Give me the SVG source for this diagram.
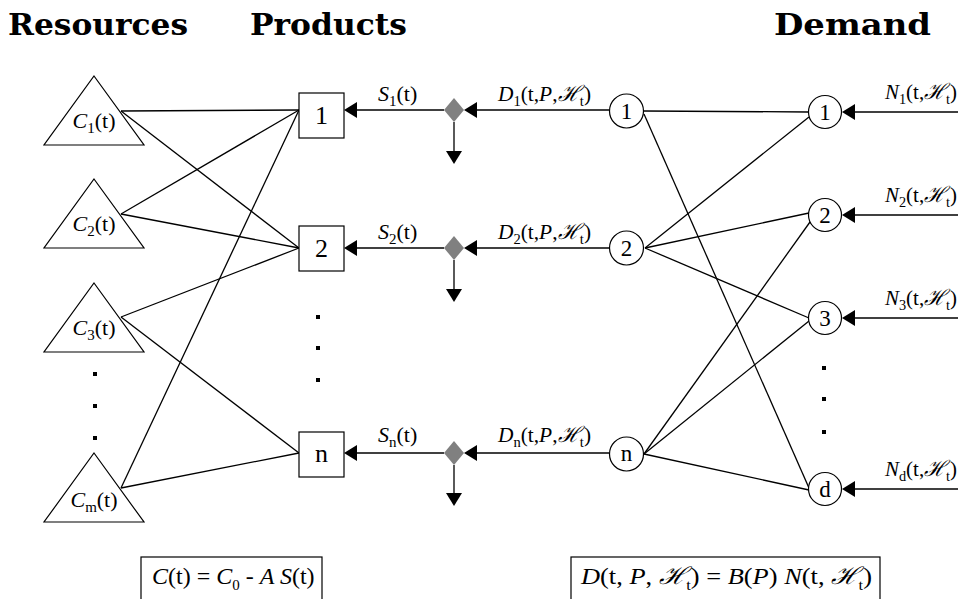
<svg xmlns="http://www.w3.org/2000/svg" width="958" height="599" viewBox="0 0 958 599">
<defs>
<style>
.t{font-family:"Liberation Serif","Times New Roman",serif;font-size:22px;fill:#000}
.d{font-family:"Liberation Serif","Times New Roman",serif;font-size:23px;fill:#000}
.q{font-family:"Liberation Serif","Times New Roman",serif;font-size:26px;fill:#000}
.f{font-family:"Liberation Serif","Times New Roman",serif;font-size:24px;fill:#000}
.h{font-family:"DejaVu Serif","Liberation Serif",serif;font-weight:bold;font-size:29px;fill:#000}
.i{font-style:italic}
.s{font-size:15px}
.ln{stroke:#000;stroke-width:1.3;fill:none}
.node{fill:#fff;stroke:#000;stroke-width:1.2}
.dm{fill:#808080}
.ar{fill:#000}
.dot{fill:#000}
</style>
</defs>
<rect width="958" height="599" fill="#fff"/>

<g id="headings">
<text class="h" x="8" y="35" textLength="180" lengthAdjust="spacingAndGlyphs">Resources</text>
<text class="h" x="250" y="35" textLength="157" lengthAdjust="spacingAndGlyphs">Products</text>
<text class="h" x="774" y="35" textLength="157" lengthAdjust="spacingAndGlyphs">Demand</text>
</g>

<g id="connectors">
<line class="ln" x1="121" y1="111" x2="299" y2="110"/>
<line class="ln" x1="121" y1="111" x2="299" y2="248"/>
<line class="ln" x1="121" y1="214" x2="299" y2="110"/>
<line class="ln" x1="121" y1="214" x2="299" y2="248"/>
<line class="ln" x1="121" y1="317" x2="299" y2="248"/>
<line class="ln" x1="121" y1="317" x2="299" y2="453"/>
<line class="ln" x1="121" y1="488" x2="299" y2="110"/>
<line class="ln" x1="121" y1="488" x2="299" y2="453"/>

<line class="ln" x1="644" y1="111" x2="808" y2="112"/>
<line class="ln" x1="644" y1="114" x2="809" y2="488"/>
<line class="ln" x1="645" y1="248" x2="809" y2="117"/>
<line class="ln" x1="645" y1="248" x2="809" y2="213"/>
<line class="ln" x1="645" y1="248" x2="809" y2="318"/>
<line class="ln" x1="644" y1="454" x2="810" y2="222"/>
<line class="ln" x1="644" y1="454" x2="809" y2="321"/>
<line class="ln" x1="644" y1="454" x2="809" y2="490"/>

<line class="ln" x1="609" y1="110" x2="470" y2="110"/>
<polygon class="ar" points="464,110 477,102 477,118"/>
<line class="ln" x1="444" y1="110" x2="350" y2="110"/>
<polygon class="ar" points="344,110 357,102 357,118"/>
<line class="ln" x1="454" y1="122" x2="454" y2="152"/>
<polygon class="ar" points="454,164 446,151 462,151"/>

<line class="ln" x1="609" y1="248" x2="470" y2="248"/>
<polygon class="ar" points="464,248 477,240 477,256"/>
<line class="ln" x1="444" y1="248" x2="350" y2="248"/>
<polygon class="ar" points="344,248 357,240 357,256"/>
<line class="ln" x1="454" y1="260" x2="454" y2="290"/>
<polygon class="ar" points="454,302 446,289 462,289"/>

<line class="ln" x1="609" y1="453" x2="470" y2="453"/>
<polygon class="ar" points="464,453 477,445 477,461"/>
<line class="ln" x1="444" y1="453" x2="350" y2="453"/>
<polygon class="ar" points="344,453 357,445 357,461"/>
<line class="ln" x1="454" y1="465" x2="454" y2="494"/>
<polygon class="ar" points="454,506 446,493 462,493"/>

<line class="ln" x1="958" y1="112" x2="848" y2="112"/>
<polygon class="ar" points="842,112 855,104 855,120"/>
<line class="ln" x1="958" y1="215" x2="848" y2="215"/>
<polygon class="ar" points="842,215 855,207 855,223"/>
<line class="ln" x1="958" y1="318" x2="848" y2="318"/>
<polygon class="ar" points="842,318 855,310 855,326"/>
<line class="ln" x1="958" y1="489" x2="848" y2="489"/>
<polygon class="ar" points="842,489 855,481 855,497"/>
</g>

<g id="resource-1">
<polygon class="node" points="94,76 144,145 44,145"/>
<text class="t" x="94" y="128" text-anchor="middle"><tspan class="i">C</tspan><tspan class="s" dy="5">1</tspan><tspan dy="-5">(t)</tspan></text>
</g>
<g id="resource-2">
<polygon class="node" points="94,179 144,248 44,248"/>
<text class="t" x="94" y="231" text-anchor="middle"><tspan class="i">C</tspan><tspan class="s" dy="5">2</tspan><tspan dy="-5">(t)</tspan></text>
</g>
<g id="resource-3">
<polygon class="node" points="94,283 144,352 44,352"/>
<text class="t" x="94" y="335" text-anchor="middle"><tspan class="i">C</tspan><tspan class="s" dy="5">3</tspan><tspan dy="-5">(t)</tspan></text>
</g>
<g id="resource-m">
<polygon class="node" points="94,453 144,522 44,522"/>
<text class="t" x="94" y="507" text-anchor="middle"><tspan class="i">C</tspan><tspan class="s" dy="5">m</tspan><tspan dy="-5">(t)</tspan></text>
</g>
<g id="resource-dots">
<rect class="dot" x="93" y="372" width="4" height="4"/>
<rect class="dot" x="93" y="404" width="4" height="4"/>
<rect class="dot" x="93" y="436" width="4" height="4"/>
</g>

<g id="product-1">
<rect class="node" x="299" y="93" width="45" height="45"/>
<text class="q" x="321.5" y="124" text-anchor="middle">1</text>
</g>
<g id="product-2">
<rect class="node" x="299" y="226" width="45" height="45"/>
<text class="q" x="321.5" y="257" text-anchor="middle">2</text>
</g>
<g id="product-n">
<rect class="node" x="299" y="432" width="45" height="45"/>
<text class="q" x="321.5" y="462" text-anchor="middle">n</text>
</g>
<g id="product-dots">
<rect class="dot" x="316" y="315" width="4" height="4"/>
<rect class="dot" x="316" y="346" width="4" height="4"/>
<rect class="dot" x="316" y="378" width="4" height="4"/>
</g>

<g id="split-1">
<polygon class="dm" points="454,98 464,110 454,122 444,110"/>
<text class="t" x="378" y="101"><tspan class="i">S</tspan><tspan class="s" dy="5">1</tspan><tspan dy="-5">(t)</tspan></text>
<text class="t" x="498" y="101" textLength="93" lengthAdjust="spacingAndGlyphs"><tspan class="i">D</tspan><tspan class="s" dy="5">1</tspan><tspan dy="-5">(t,</tspan><tspan class="i">P</tspan>,<tspan class="i">ℋ</tspan><tspan class="s" dy="5">t</tspan><tspan dy="-5">)</tspan></text>
</g>
<g id="split-2">
<polygon class="dm" points="454,236 464,248 454,260 444,248"/>
<text class="t" x="378" y="239"><tspan class="i">S</tspan><tspan class="s" dy="5">2</tspan><tspan dy="-5">(t)</tspan></text>
<text class="t" x="498" y="239" textLength="93" lengthAdjust="spacingAndGlyphs"><tspan class="i">D</tspan><tspan class="s" dy="5">2</tspan><tspan dy="-5">(t,</tspan><tspan class="i">P</tspan>,<tspan class="i">ℋ</tspan><tspan class="s" dy="5">t</tspan><tspan dy="-5">)</tspan></text>
</g>
<g id="split-n">
<polygon class="dm" points="454,441 464,453 454,465 444,453"/>
<text class="t" x="378" y="442"><tspan class="i">S</tspan><tspan class="s" dy="5">n</tspan><tspan dy="-5">(t)</tspan></text>
<text class="t" x="498" y="442" textLength="93" lengthAdjust="spacingAndGlyphs"><tspan class="i">D</tspan><tspan class="s" dy="5">n</tspan><tspan dy="-5">(t,</tspan><tspan class="i">P</tspan>,<tspan class="i">ℋ</tspan><tspan class="s" dy="5">t</tspan><tspan dy="-5">)</tspan></text>
</g>

<g id="demand-1">
<circle class="node" cx="626.5" cy="111" r="17"/>
<text class="d" x="626.5" y="119" text-anchor="middle">1</text>
</g>
<g id="demand-2">
<circle class="node" cx="626.5" cy="248" r="17"/>
<text class="d" x="626.5" y="256" text-anchor="middle">2</text>
</g>
<g id="demand-n">
<circle class="node" cx="626.5" cy="454" r="17"/>
<text class="d" x="626.5" y="461" text-anchor="middle">n</text>
</g>

<g id="market-1">
<circle class="node" cx="825" cy="112" r="16.5"/>
<text class="d" x="825" y="120" text-anchor="middle">1</text>
<text class="t" x="885" y="99" textLength="72" lengthAdjust="spacingAndGlyphs"><tspan class="i">N</tspan><tspan class="s" dy="5">1</tspan><tspan dy="-5">(t,</tspan><tspan class="i">ℋ</tspan><tspan class="s" dy="5">t</tspan><tspan dy="-5">)</tspan></text>
</g>
<g id="market-2">
<circle class="node" cx="825" cy="215" r="16.5"/>
<text class="d" x="825" y="223" text-anchor="middle">2</text>
<text class="t" x="885" y="202" textLength="72" lengthAdjust="spacingAndGlyphs"><tspan class="i">N</tspan><tspan class="s" dy="5">2</tspan><tspan dy="-5">(t,</tspan><tspan class="i">ℋ</tspan><tspan class="s" dy="5">t</tspan><tspan dy="-5">)</tspan></text>
</g>
<g id="market-3">
<circle class="node" cx="825" cy="318" r="16.5"/>
<text class="d" x="825" y="326" text-anchor="middle">3</text>
<text class="t" x="885" y="305" textLength="72" lengthAdjust="spacingAndGlyphs"><tspan class="i">N</tspan><tspan class="s" dy="5">3</tspan><tspan dy="-5">(t,</tspan><tspan class="i">ℋ</tspan><tspan class="s" dy="5">t</tspan><tspan dy="-5">)</tspan></text>
</g>
<g id="market-d">
<circle class="node" cx="825" cy="489" r="16.5"/>
<text class="d" x="825" y="497" text-anchor="middle">d</text>
<text class="t" x="885" y="476" textLength="72" lengthAdjust="spacingAndGlyphs"><tspan class="i">N</tspan><tspan class="s" dy="5">d</tspan><tspan dy="-5">(t,</tspan><tspan class="i">ℋ</tspan><tspan class="s" dy="5">t</tspan><tspan dy="-5">)</tspan></text>
</g>
<g id="market-dots">
<rect class="dot" x="822" y="366" width="4" height="4"/>
<rect class="dot" x="822" y="397" width="4" height="4"/>
<rect class="dot" x="822" y="430" width="4" height="4"/>
</g>

<g id="formula-supply">
<rect class="node" x="141" y="557" width="181" height="60"/>
<text class="f" x="152" y="584"><tspan class="i">C</tspan>(t) = <tspan class="i">C</tspan><tspan class="s" dy="6">0</tspan><tspan dy="-6"> - </tspan><tspan class="i">A S</tspan>(t)</text>
</g>
<g id="formula-demand">
<rect class="node" x="571" y="557" width="309" height="60"/>
<text class="f" x="581" y="584" textLength="291" lengthAdjust="spacingAndGlyphs"><tspan class="i">D</tspan>(t, <tspan class="i">P</tspan>, <tspan class="i">ℋ</tspan><tspan class="s" dy="6">t</tspan><tspan dy="-6">) = </tspan><tspan class="i">B</tspan>(<tspan class="i">P</tspan>) <tspan class="i">N</tspan>(t, <tspan class="i">ℋ</tspan><tspan class="s" dy="6">t</tspan><tspan dy="-6">)</tspan></text>
</g>
</svg>
